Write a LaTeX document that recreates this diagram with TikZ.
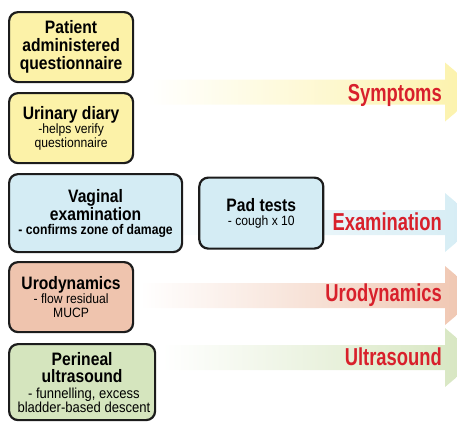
\documentclass[tikz,border=0pt]{standalone}
\usepackage{fontspec}
\setmainfont{Liberation Sans}[FakeStretch=0.87]
\newfontfamily\subfam{Liberation Sans}[FakeStretch=0.9]
\newfontfamily\tagfam{Liberation Sans}[FakeStretch=0.75]
\usetikzlibrary{positioning}
\definecolor{ink}{HTML}{1C1C1C}
\definecolor{sympfill}{HTML}{FCF2A8}
\definecolor{examfill}{HTML}{D4ECF4}
\definecolor{urofill}{HTML}{EFC4AE}
\definecolor{ultrafill}{HTML}{D5E5BE}
\definecolor{alarm}{HTML}{D8202B}
\newcommand{\ttl}{\bfseries\fontsize{18}{18}\selectfont}
\newcommand{\subtxt}[1][13.5]{\mdseries\subfam\fontsize{#1}{15}\selectfont}
\newcommand{\subbold}{\bfseries\fontsize{14}{15}\selectfont}
% fading band with a head cut off at the right edge
\newcommand{\band}[3]{%
  \shade[left color=white,middle color=#3,right color=#3]
    (#2,#1-12.5) -- (445,#1-12.5) -- (445,#1-29.5) -- (480,#1)
    -- (445,#1+29.5) -- (445,#1+12.5) -- (#2,#1+12.5) -- cycle;}

\begin{document}
\begin{tikzpicture}[
  x=1pt,y=-1pt,
  card/.style={draw=ink,line width=2.2pt,rounded corners=9pt,align=center,
               font=\ttl,inner sep=1pt,anchor=north west},
  sympcard/.style={card,fill=sympfill,minimum width=124pt,minimum height=70pt},
  examcard/.style={card,fill=examfill,minimum height=78pt},
  urocard/.style={card,fill=urofill,minimum width=124pt,minimum height=70pt},
  ultracard/.style={card,fill=ultrafill,minimum width=146pt,minimum height=76pt},
  tag/.style={font=\tagfam\bfseries\fontsize{24.5}{24}\selectfont,text=alarm,
              anchor=base east,inner sep=0pt}
]
\useasboundingbox (0,0) rectangle (457,421);
\clip (0,0) rectangle (457,421);

\band{92}{148}{sympfill}
\band{222.5}{150}{examfill}
\band{295.5}{140}{urofill}
\band{357.5}{162}{ultrafill}

\node[sympcard] (quest) at (8,11) {Patient\\administered\\questionnaire};
\node[sympcard] (diary) at (8,92)
  {Urinary diary\\[-4pt]\subtxt -helps verify\\[-4pt]\subtxt questionnaire};
\node[examcard,minimum width=173pt] (vag) at (8,173)
  {Vaginal\\examination\\[-4pt]\subbold - confirms zone of damage};
\node[examcard,minimum width=124pt,minimum height=71pt,right=15pt of vag] (pad)
  {Pad tests\\[-4pt]\subtxt - cough x 10};
\node[urocard] (uro) at (8,261)
  {Urodynamics\\[-4pt]\subtxt - flow residual\\[-4pt]\subtxt MUCP};
\node[ultracard] (peri) at (8,343)
  {Perineal\\[-1pt]ultrasound\\[-2pt]\subtxt[14.5] - funnelling, excess\\[-4pt]\subtxt[14.5] bladder-based descent};

\node[tag] (symp) at (442,101.5) {Symptoms};
\node[tag] (exam) at (442,230) {Examination};
\node[tag] (urot) at (442,301) {Urodynamics};
\node[tag] (ultra) at (442,365) {Ultrasound};
\end{tikzpicture}
\end{document}
